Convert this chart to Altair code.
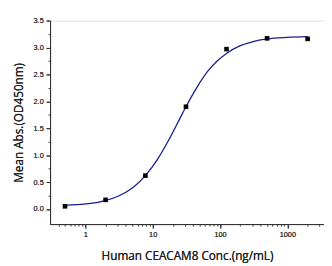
import altair as alt
import pandas as pd

# measured points
conc = [0.5, 2, 7.8, 31.25, 125, 500, 2000]
absv = [0.05, 0.17, 0.62, 1.90, 2.97, 3.17, 3.16]

# fitted curve
curve_x = [0.5, 1, 2, 3, 5, 7.8, 12, 18, 25, 31.25, 45, 65, 90, 125, 200, 300, 500, 1000, 2000]
curve_y = [0.067, 0.094, 0.157, 0.232, 0.39, 0.62, 0.937, 1.319, 1.665, 1.899, 2.25, 2.55, 2.745, 2.89, 3.035, 3.105, 3.16, 3.189, 3.202]

x_major = [1, 10, 100, 1000]
x_minor = [0.4, 0.5, 0.6, 0.7, 0.8, 0.9, 2, 3, 4, 5, 6, 7, 8, 9,
           20, 30, 40, 50, 60, 70, 80, 90, 200, 300, 400, 500, 600, 700, 800, 900, 2000, 3000]
y_major = [0.0, 0.5, 1.0, 1.5, 2.0, 2.5, 3.0, 3.5]
y_minor = [0.25, 0.75, 1.25, 1.75, 2.25, 2.75, 3.25]

pts = pd.DataFrame({"x": conc, "y": absv})
cur = pd.DataFrame({"x": curve_x, "y": curve_y})

xscale = alt.Scale(type="log", domain=[0.3, 3500], nice=False)
yscale = alt.Scale(domain=[-0.28, 3.5], nice=False, zero=False)

lab_font = "Liberation Sans"
ttl_font = "Open Sans"

x_axis = alt.Axis(values=x_major, format="d", title="Human CEACAM8 Conc.(ng/mL)",
                  tickSize=4, labelFontSize=7.5, labelFont=lab_font, labelColor="#333",
                  titleFont=ttl_font, titleFontSize=12, titleFontWeight="normal",
                  titleColor="#222", titlePadding=13, labelPadding=3,
                  domainColor="#333", tickColor="#333", grid=False, orient="bottom")
y_axis = alt.Axis(values=y_major, format=".1f", title="Mean Abs.(OD450nm)",
                  tickSize=4, labelFontSize=7.5, labelFont=lab_font, labelColor="#333",
                  titleFont=ttl_font, titleFontSize=12, titleFontWeight="normal",
                  titleColor="#222", titlePadding=8, labelPadding=3,
                  domainColor="#333", tickColor="#333", grid=False, orient="left")

line = alt.Chart(cur).mark_line(color="#1c1c8c", strokeWidth=1.3, interpolate="monotone").encode(
    x=alt.X("x:Q", scale=xscale, axis=x_axis),
    y=alt.Y("y:Q", scale=yscale, axis=y_axis),
)

points = alt.Chart(pts).mark_square(size=22, color="black", opacity=1).encode(
    x=alt.X("x:Q", scale=xscale, axis=x_axis),
    y=alt.Y("y:Q", scale=yscale, axis=y_axis),
)

minor_x_axis = alt.Axis(values=x_minor, labels=False, title=None, tickSize=2,
                        domain=False, grid=False, tickColor="#333", orient="bottom")
minor_y_axis = alt.Axis(values=y_minor, labels=False, title=None, tickSize=2,
                        domain=False, grid=False, tickColor="#333", orient="left")

minor = alt.Chart(pts).mark_point(opacity=0).encode(
    x=alt.X("x:Q", scale=xscale, axis=minor_x_axis),
    y=alt.Y("y:Q", scale=yscale, axis=minor_y_axis),
)

chart = alt.layer(line, points, minor).resolve_axis(x="independent", y="independent").properties(
    width=280, height=208,
    autosize=alt.AutoSizeParams(type="none"),
    padding={"left": 43, "top": 10, "right": 0, "bottom": 40},
).configure_view(stroke=None).configure(background="white")

chart.save("out.html", embed_options={"renderer": "svg", "actions": False})
